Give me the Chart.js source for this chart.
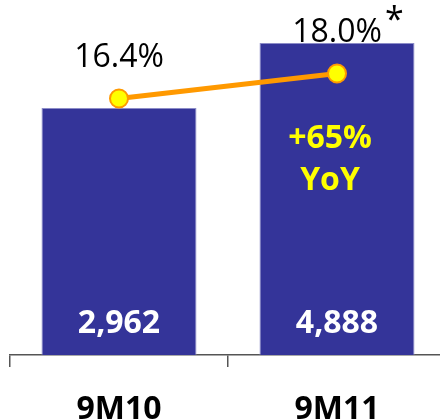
<!DOCTYPE html>
<html>
<head>
<meta charset="utf-8">
<script src="https://cdn.jsdelivr.net/npm/chart.js@4.4.1/dist/chart.umd.min.js"></script>
<style>
  html, body { margin: 0; padding: 0; background: #fff; overflow: hidden; }
  #wrap { width: 456px; height: 419px; position: relative; }
</style>
</head>
<body>
<div id="wrap"><canvas id="chart" width="456" height="419"></canvas></div>
<script>
// Chart data
const categories = ["9M10", "9M11"];
const revenue = [2962, 4888];   // bar values
const margin = [16.4, 18.0];    // line values, %
const marginNote = ["", "*"];   // footnote marks next to the % labels
const growthNote = ["+65%", "YoY"];

// bars in the original are not drawn from zero
const Y_MIN = -4360;
const Y_MAX = 6162;

const FONT = "'Open Sans', 'DejaVu Sans', sans-serif";

// Draws the value labels and the YoY note
const labelPlugin = {
  id: "labels",
  afterDatasetsDraw(chart) {
    const ctx = chart.ctx;
    const bars = chart.getDatasetMeta(0).data;
    const points = chart.getDatasetMeta(1).data;
    ctx.save();
    ctx.textAlign = "center";
    ctx.textBaseline = "alphabetic";

    // bar values at the bottom of each bar
    ctx.font = "bold 32px " + FONT;
    ctx.fillStyle = "#ffffff";
    bars.forEach((bar, i) => {
      ctx.fillText(revenue[i].toLocaleString("en-US"), bar.x, bar.base - 22);
    });

    // % labels above points
    points.forEach((pt, i) => {
      const txt = margin[i].toFixed(1) + "%";
      ctx.font = "32px " + FONT;
      ctx.fillStyle = "#000000";
      ctx.textAlign = "center";
      ctx.fillText(txt, pt.x, pt.y - 32);
      if (marginNote[i]) {
        const w = ctx.measureText(txt).width;
        ctx.font = "34px " + FONT;
        ctx.textAlign = "left";
        ctx.fillText(marginNote[i], pt.x + w / 2 + 3, pt.y - 43);
      }
    });

    // growth note inside the last bar
    const last = bars[bars.length - 1];
    ctx.font = "bold 32px " + FONT;
    ctx.fillStyle = "#ffff00";
    ctx.textAlign = "center";
    ctx.fillText(growthNote[0], last.x - 7, last.y + 105);
    ctx.fillText(growthNote[1], last.x - 7, last.y + 147);
    ctx.restore();
  }
};

new Chart(document.getElementById("chart"), {
  data: {
    labels: categories,
    datasets: [
      {
        type: "bar",
        data: revenue,
        base: Y_MIN,
        backgroundColor: "#343499",
        borderColor: "#8c8cc8",
        borderWidth: 1,
        barPercentage: 0.711,
        categoryPercentage: 1,
        yAxisID: "y",
        order: 2
      },
      {
        type: "line",
        data: margin,
        borderColor: "#ff9900",
        borderWidth: 5,
        pointRadius: 9,
        pointBackgroundColor: "#ffff00",
        pointBorderColor: "#ff9900",
        pointBorderWidth: 2,
        yAxisID: "y2",
        order: 1
      }
    ]
  },
  options: {
    responsive: false,
    animation: false,
    layout: { autoPadding: false, padding: { left: 10, right: 10, top: 0, bottom: 0 } },
    plugins: {
      legend: { display: false },
      tooltip: { enabled: false }
    },
    scales: {
      x: {
        offset: true,
        afterFit(scale) { scale.height = 64; },
        grid: {
          display: true,
          offset: true,
          drawOnChartArea: false,
          drawTicks: true,
          tickLength: 12,
          color: "#555555",
          lineWidth: 1.5
        },
        border: { display: true, color: "#555555", width: 1.5 },
        ticks: {
          color: "#000000",
          padding: 24,
          font: { family: FONT, size: 32, weight: "bold" }
        }
      },
      y: { display: false, min: Y_MIN, max: Y_MAX },
      y2: { display: false, min: 0, max: 22.7 }
    }
  },
  plugins: [labelPlugin]
});
</script>
</body>
</html>
